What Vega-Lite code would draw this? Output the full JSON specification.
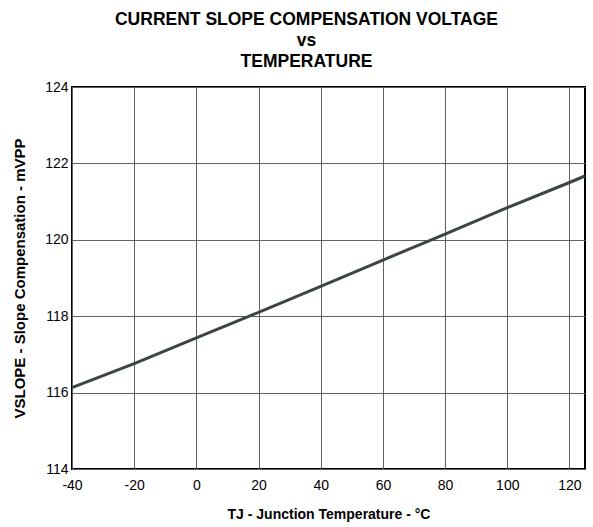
{
  "$schema": "https://vega.github.io/schema/vega-lite/v6.json",
  "width": 513,
  "height": 382,
  "autosize": "none",
  "padding": {"left": 72, "top": 87, "right": 8, "bottom": 58},
  "background": "white",
  "title": {
    "text": ["CURRENT SLOPE COMPENSATION VOLTAGE", "vs", "TEMPERATURE"],
    "font": "Liberation Sans",
    "fontSize": 17.5,
    "fontWeight": "bold",
    "lineHeight": 21,
    "color": "black",
    "anchor": "middle",
    "frame": "group",
    "offset": 10,
    "dx": -22
  },
  "config": {
    "view": {"stroke": "black", "strokeWidth": 2},
    "axis": {
      "labelFont": "Liberation Sans",
      "labelFontSize": 14,
      "labelColor": "black",
      "labelFlush": false,
      "titleFont": "Liberation Sans",
      "titleFontSize": 15,
      "titleFontWeight": "bold",
      "titleColor": "black",
      "ticks": false,
      "domain": false,
      "gridColor": "#606060",
      "gridWidth": 1,
      "gridOpacity": 1
    }
  },
  "data": {
    "values": [
      {"t": -40, "v": 116.13},
      {"t": -20, "v": 116.76},
      {"t": 0, "v": 117.43},
      {"t": 20, "v": 118.1},
      {"t": 40, "v": 118.78},
      {"t": 60, "v": 119.47},
      {"t": 80, "v": 120.15},
      {"t": 100, "v": 120.84},
      {"t": 120, "v": 121.5},
      {"t": 125, "v": 121.67}
    ]
  },
  "mark": {"type": "line", "color": "#3b4643", "strokeWidth": 3, "clip": true},
  "encoding": {
    "x": {
      "field": "t",
      "type": "quantitative",
      "scale": {"domain": [-40, 125], "nice": false, "zero": false},
      "axis": {
        "values": [-40, -20, 0, 20, 40, 60, 80, 100, 120],
        "labelExpr": "'' + datum.value",
        "title": "TJ - Junction Temperature - °C",
        "titleFontSize": 14,
        "labelPadding": 9,
        "titlePadding": 15
      }
    },
    "y": {
      "field": "v",
      "type": "quantitative",
      "scale": {"domain": [114, 124], "nice": false, "zero": false},
      "axis": {
        "values": [114, 116, 118, 120, 122, 124],
        "labelExpr": "'' + datum.value",
        "title": "VSLOPE - Slope Compensation - mVPP",
        "labelPadding": 4,
        "titlePadding": 17
      }
    }
  }
}
